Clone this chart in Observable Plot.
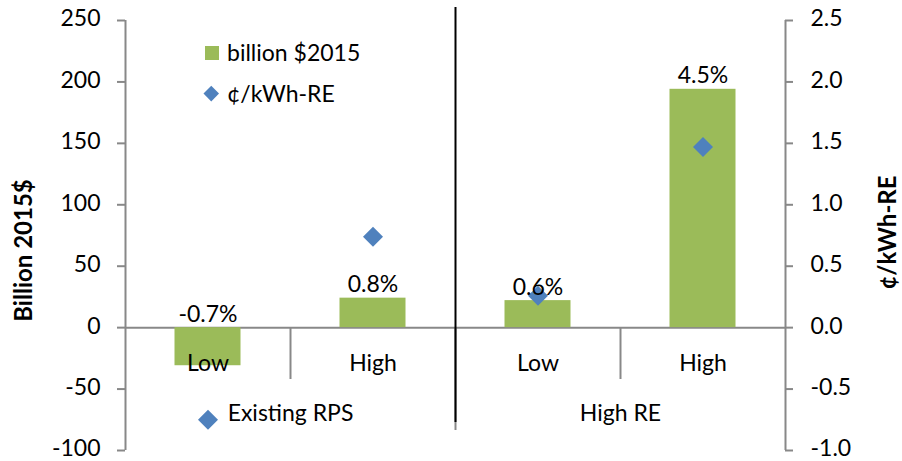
<!DOCTYPE html>
<html>
<head>
<meta charset="utf-8">
<script src="https://cdn.jsdelivr.net/npm/d3@7"></script>
<script src="https://cdn.jsdelivr.net/npm/@observablehq/plot@0.6"></script>
<style>
  html, body { margin: 0; padding: 0; background: #fff; }
  #wrap { position: relative; width: 902px; height: 461px; font-family: Lato, "Open Sans", sans-serif; }
  .leg { position: absolute; font-size: 23px; color: #000; line-height: 1; white-space: nowrap; }
  .sq { position: absolute; width: 14px; height: 14px; background: #9BBB59; }
  .dm { position: absolute; width: 10.5px; height: 10.5px; background: #4F81BD; transform: rotate(45deg); }
</style>
</head>
<body>
<div id="wrap"></div>
<script>
// ---- data ----
const categories = ["Low", "High", "Low", "High"];
const groups = ["Existing RPS", "High RE"];
const billions = [-31, 24, 22, 194];          // billion $2015 (left axis)
const centsPerKWh = [-0.75, 0.74, 0.26, 1.47]; // ¢/kWh-RE (right axis)
const pctLabels = ["-0.7%", "0.8%", "0.6%", "4.5%"];
const leftTicks = [250, 200, 150, 100, 50, 0, -50, -100];
const rightTicks = [2.5, 2.0, 1.5, 1.0, 0.5, 0.0, -0.5, -1.0];
const seriesNames = ["billion $2015", "¢/kWh-RE"];
const leftTitle = "Billion 2015$";
const rightTitle = "¢/kWh-RE";

const GREEN = "#9BBB59", BLUE = "#4F81BD", GRAY = "#888888";
const ratio = leftTicks[0] / rightTicks[0];
const yMin = d3.min(leftTicks), yMax = d3.max(leftTicks);

const rows = categories.map((c, i) => ({
  i, cat: c, group: groups[Math.floor(i / 2)],
  billion: billions[i], cents: centsPerKWh[i], label: pctLabels[i]
}));
const groupBounds = d3.range(groups.length + 1).map(k => k * categories.length / groups.length);
const FS = 23;

const chart = Plot.plot({
  width: 902,
  height: 461,
  marginLeft: 125,
  marginRight: 117,
  marginTop: 20,
  marginBottom: 11,
  style: { fontFamily: "Lato, 'Open Sans', sans-serif", fontSize: FS + "px", color: "#000", background: "#fff" },
  x: { domain: [0, categories.length], axis: null },
  y: { domain: [yMin, yMax], axis: null },
  marks: [
    // axis lines
    Plot.ruleX([0, categories.length], { stroke: GRAY, strokeWidth: 2 }),
    // left axis ticks + labels
    Plot.ruleY(leftTicks, { y: d => d, x1: 0, x2: 0, insetLeft: -8, stroke: GRAY, strokeWidth: 2 }),
    Plot.text(leftTicks, { y: d => d, frameAnchor: "left", dx: -25, dy: -1.5, textAnchor: "end", text: d => String(d), fontSize: FS }),
    // right axis ticks + labels
    Plot.ruleY(rightTicks, { y: d => d * ratio, x1: categories.length, x2: categories.length, insetRight: -8, stroke: GRAY, strokeWidth: 2 }),
    Plot.text(rightTicks, { y: d => d * ratio, frameAnchor: "right", dx: 25, dy: -1.5, textAnchor: "start", text: d => d.toFixed(1), fontSize: FS }),
    // zero / category axis line
    Plot.ruleY([0], { stroke: GRAY, strokeWidth: 2 }),
    // category separators
    Plot.ruleX(d3.range(1, categories.length, 2), { y1: 0, y2: yMin, insetBottom: 71, stroke: GRAY, strokeWidth: 2 }),
    Plot.ruleX(groupBounds.slice(1, -1), { y1: 0, y2: yMin, insetBottom: 20, stroke: GRAY, strokeWidth: 2 }),
    // bars
    Plot.rect(rows, { x1: d => d.i + 0.3, x2: d => d.i + 0.7, y1: 0, y2: "billion", fill: GREEN }),
    // divider line
    Plot.ruleX(groupBounds.slice(1, -1), { stroke: "#000", strokeWidth: 2, insetTop: -13, insetBottom: 28 }),
    // diamonds
    Plot.dot(rows, { x: d => d.i + 0.5, y: d => d.cents * ratio, symbol: "diamond2", r: 9, fill: BLUE, stroke: "none" }),
    // percent labels
    Plot.text(rows, { x: d => d.i + 0.5, y: d => Math.max(0, d.billion), text: "label", lineAnchor: "bottom", dy: -6, fontSize: FS }),
    // category labels
    Plot.text(rows, { x: d => d.i + 0.5, y: 0, text: "cat", lineAnchor: "bottom", dy: 43, fontSize: FS }),
    // group labels
    Plot.text(groups, { x: (d, k) => (groupBounds[k] + groupBounds[k + 1]) / 2, y: 0, text: d => d, lineAnchor: "bottom", dy: 93, fontSize: FS }),
    // axis titles
    Plot.text([leftTitle], { frameAnchor: "left", text: d => d, rotate: -90, textAnchor: "middle", lineAnchor: "middle", dx: -101, dy: 15, fontWeight: "bold", fontSize: 24 }),
    Plot.text([rightTitle], { frameAnchor: "right", text: d => d, rotate: -90, textAnchor: "middle", lineAnchor: "middle", dx: 103, dy: -3, fontWeight: "bold", fontSize: 24 })
  ]
});

const wrap = document.getElementById("wrap");
wrap.appendChild(chart);

// legend
const leg = [
  { cls: "sq", mx: 205, my: 46, tx: 227, ty: 41, text: seriesNames[0] },
  { cls: "dm", mx: 206, my: 87.5, tx: 227, ty: 82, text: seriesNames[1] }
];
for (const l of leg) {
  const m = document.createElement("div");
  m.className = l.cls; m.style.left = l.mx + "px"; m.style.top = l.my + "px";
  wrap.appendChild(m);
  const t = document.createElement("div");
  t.className = "leg"; t.style.left = l.tx + "px"; t.style.top = l.ty + "px";
  t.textContent = l.text;
  wrap.appendChild(t);
}
</script>
</body>
</html>
